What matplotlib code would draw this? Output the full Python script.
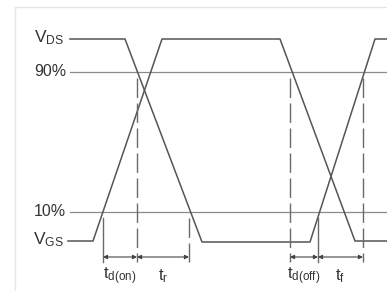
import matplotlib.pyplot as plt

plt.rcParams['font.family'] = ['Liberation Sans', 'DejaVu Sans']
plt.rcParams['mathtext.fontset'] = 'custom'
plt.rcParams['mathtext.rm'] = 'Liberation Sans'
plt.rcParams['mathtext.it'] = 'Liberation Sans'

# Waveform breakpoints (drawing units, y grows downward)
gate_t = [68, 93, 162, 280, 355, 387]
gate_v = [241, 241, 39, 39, 241, 241]
drain_t = [70, 125, 202, 310, 375, 387]
drain_v = [39, 39, 242, 242, 39, 39]

# Threshold levels
level_names = ['90%', '10%']
level_y = [72, 212]
level_start = 70

# Timing markers
marker_t = [103, 137, 189, 290, 318, 363]
marker_top = [218, 78, 218, 78, 218, 78]
marker_dashed = [False, True, True, True, False, True]
marker_bottom = 262

# Interval arrows and labels
spans = [(103, 137), (137, 189), (290, 318), (318, 363)]
span_labels = [r'$\mathrm{t_{d(on)}}$', r'$\mathrm{t_r}$', r'$\mathrm{t_{d(off)}}$', r'$\mathrm{t_f}$']
arrow_y = 257
label_y = 276

fig = plt.figure(figsize=(3.87, 2.91), dpi=100)
ax = fig.add_axes([0, 0, 1, 1])
ax.set_xlim(0, 387)
ax.set_ylim(291, 0)
ax.axis('off')

line_col = '#555555'
text_col = '#333333'

# faint frame
ax.plot([15, 387], [7, 7], color='#e6e6e6', lw=1)
ax.plot([15, 15], [7, 291], color='#e6e6e6', lw=1)

for name, y in zip(level_names, level_y):
    ax.plot([level_start, 387], [y, y], color='#8a8a8a', lw=0.9)
    ax.text(66, y, name, ha='right', va='center', fontsize=11.5, color=text_col)

ax.plot(gate_t, gate_v, color=line_col, lw=1.1)
ax.plot(drain_t, drain_v, color=line_col, lw=1.1)
ax.text(64, drain_v[0] - 1, r'V$_{\mathrm{DS}}$', ha='right', va='center', fontsize=12.5, color=text_col)
ax.text(64, gate_v[0] - 1, r'V$_{\mathrm{GS}}$', ha='right', va='center', fontsize=12.5, color=text_col)

for t, top, dashed in zip(marker_t, marker_top, marker_dashed):
    ls = (0, (14, 4)) if dashed else '-'
    ax.plot([t, t], [top, marker_bottom], color='#6a6a6a', lw=1.0, linestyle=ls)

for (a, b), lab in zip(spans, span_labels):
    ax.annotate('', xy=(a, arrow_y), xytext=(b, arrow_y),
                arrowprops=dict(arrowstyle='<|-|>', color='#444444', lw=0.8,
                                mutation_scale=6, shrinkA=0, shrinkB=0))
    ax.text((a + b) / 2, label_y, lab, ha='center', va='center', fontsize=12, color=text_col)

fig.savefig('out.png', dpi=100)
